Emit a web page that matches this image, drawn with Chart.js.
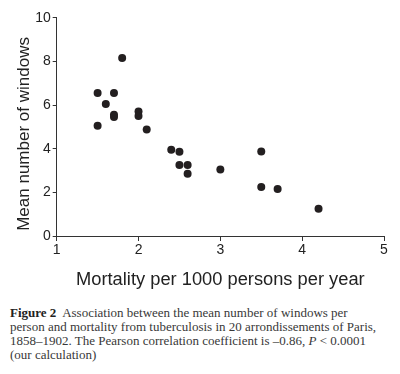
<!DOCTYPE html>
<html>
<head>
<meta charset="utf-8">
<script src="https://cdn.jsdelivr.net/npm/chart.js@4"></script>
<style>
  body { margin: 0; background: #fff; }
  #wrap { position: relative; width: 400px; height: 374px; }
  #chart { position: absolute; left: 0; top: 0; }
  .caption {
    position: absolute; left: 10px; top: 306px; width: 390px;
    font-family: "Liberation Serif", "Times New Roman", serif;
    font-size: 13px; line-height: 14px; color: #383838; white-space: nowrap;
  }
  .caption b { color: #222; }
</style>
</head>
<body>
<div id="wrap">
  <canvas id="chart" width="400" height="292"></canvas>
  <div class="caption">
    <b>Figure 2</b>&nbsp; Association between the mean number of windows per<br>
    person and mortality from tuberculosis in 20 arrondissements of Paris,<br>
    1858–1902. The Pearson correlation coefficient is –0.86, <i>P</i> &lt; 0.0001<br>
    (our calculation)
  </div>
</div>
<script>
// one point per arrondissement
const mortality = [1.5, 1.5, 1.6, 1.7, 1.7, 1.7, 1.8, 2.0, 2.0, 2.1,
                   2.4, 2.5, 2.5, 2.6, 2.6, 3.0, 3.5, 3.5, 3.7, 4.2];
const windows   = [6.55, 5.05, 6.05, 6.55, 5.45, 5.55, 8.15, 5.7, 5.5, 4.88,
                   3.95, 3.86, 3.25, 3.25, 2.85, 3.05, 3.87, 2.24, 2.15, 1.25];

const xTitle = 'Mortality per 1000 persons per year';
// trailing spaces nudge the centred label a little lower, as in the original
const yTitle = 'Mean number of windows   ';

const FONT = '"Liberation Sans", Arial, sans-serif';
const INK = '#222';
const AXIS = '#333';

const points = mortality.map((m, i) => ({ x: m, y: windows[i] }));

new Chart(document.getElementById('chart').getContext('2d'), {
  type: 'scatter',
  data: {
    datasets: [{
      data: points,
      backgroundColor: '#231f20',
      borderColor: '#231f20',
      pointRadius: 4,
      borderWidth: 0
    }]
  },
  options: {
    responsive: false,
    animation: false,
    layout: { padding: { left: 0, right: 16, top: 17.7, bottom: 0 } },
    plugins: { legend: { display: false }, tooltip: { enabled: false } },
    scales: {
      x: {
        type: 'linear', min: 1, max: 5,
        afterFit: s => { s.height = 56; },
        border: { display: true, color: AXIS, width: 1 },
        grid: { drawOnChartArea: false, drawTicks: true, tickLength: 5, color: AXIS },
        ticks: { stepSize: 1, padding: 1, color: INK, font: { family: FONT, size: 14 } },
        title: {
          display: true, text: xTitle, color: INK,
          font: { family: FONT, size: 18.3 }, padding: { top: 0, bottom: 1 }
        }
      },
      y: {
        type: 'linear', min: 0, max: 10,
        afterFit: s => { s.width = 56.7; },
        border: { display: true, color: AXIS, width: 1 },
        grid: { drawOnChartArea: false, drawTicks: true, tickLength: 4, color: AXIS },
        ticks: { stepSize: 2, padding: 2, color: INK, font: { family: FONT, size: 14 } },
        title: {
          display: true, text: yTitle, color: INK,
          font: { family: FONT, size: 17 }, padding: { top: 14, bottom: 0 }
        }
      }
    }
  }
});
</script>
</body>
</html>
